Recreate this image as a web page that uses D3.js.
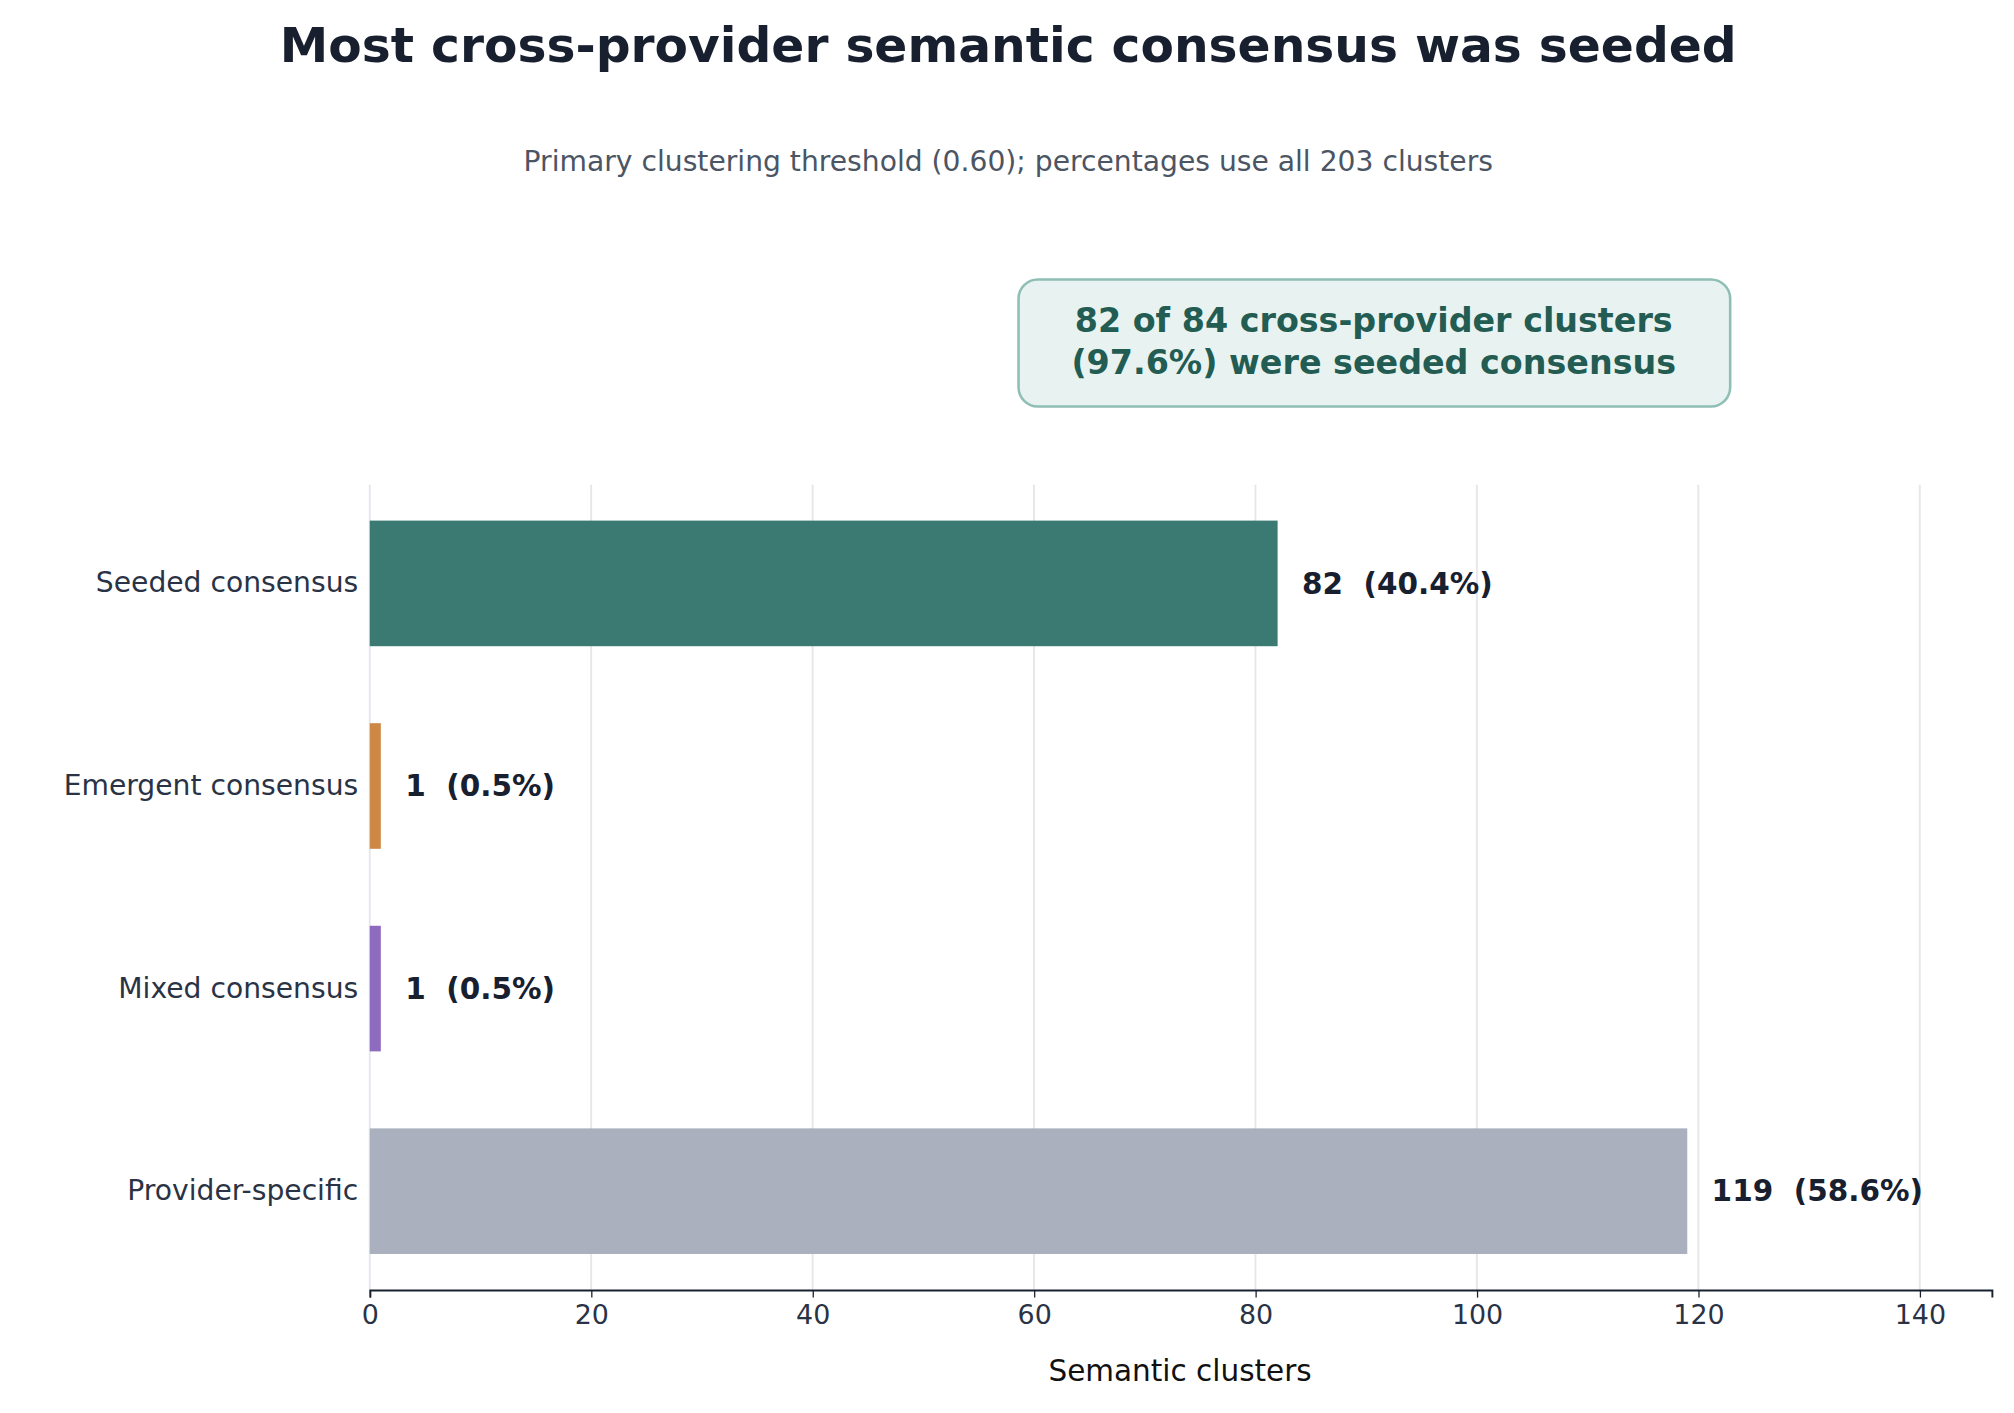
<!DOCTYPE html>
<html><head><meta charset="utf-8">
<script src="https://cdn.jsdelivr.net/npm/d3@7"></script>
<style>body{margin:0;background:#fff}text{font-family:"DejaVu Sans",sans-serif}</style>
</head><body>
<script>
const categories = ["Seeded consensus","Emergent consensus","Mixed consensus","Provider-specific"];
const values = [82,1,1,119];
const percents = ["40.4%","0.5%","0.5%","58.6%"];
const colors = ["#3b7a72","#cc8844","#8e6bbf","#aab0bd"];
const ticks = [0,20,40,60,80,100,120,140];

const W=1568,H=1102;
const svg=d3.select("body").append("svg").attr("width",2014).attr("height",1413).attr("viewBox",`0 0 ${W} ${H}`);
const x=d3.scaleLinear().domain([0,146.5]).range([287,1552]);
const y=d3.scaleBand().domain(categories).range([376,1008]).paddingInner(0.38).paddingOuter(0.19);

svg.append("text").attr("x",785).attr("y",48).attr("text-anchor","middle").attr("font-size",38).attr("font-weight","bold").attr("fill","#18202f").text("Most cross-provider semantic consensus was seeded");
svg.append("text").attr("x",785).attr("y",133).attr("text-anchor","middle").attr("font-size",22).attr("fill","#4b5563").text("Primary clustering threshold (0.60); percentages use all 203 clusters");

svg.append("g").selectAll("line").data(ticks).join("line").attr("x1",d=>x(d)).attr("x2",d=>x(d)).attr("y1",378).attr("y2",1006).attr("stroke","#e5e7eb").attr("stroke-width",1.5);

svg.append("g").selectAll("rect").data(values).join("rect").attr("x",x(0)).attr("y",(d,i)=>y(categories[i])).attr("width",d=>x(d)-x(0)).attr("height",y.bandwidth()).attr("fill",(d,i)=>colors[i]);

svg.append("g").selectAll("text").data(values).join("text").attr("x",d=>x(d)+19).attr("y",(d,i)=>y(categories[i])+y.bandwidth()/2+8).attr("font-size",23).attr("font-weight","bold").attr("fill","#18202f").attr("xml:space","preserve").text((d,i)=>`${d}  (${percents[i]})`);

const ya=svg.append("g").attr("transform","translate(287,0)").call(d3.axisLeft(y).tickSize(0).tickPadding(9));
ya.select(".domain").remove();
ya.selectAll("text").attr("font-size",22).attr("fill","#2a3345").attr("font-family","DejaVu Sans");

const xa=svg.append("g").attr("transform","translate(0,1006)").call(d3.axisBottom(x).tickValues(ticks).tickSize(6).tickPadding(6));
xa.select(".domain").attr("stroke","#18202f").attr("stroke-width",1.5);
xa.selectAll("line").attr("stroke","#18202f");
xa.selectAll("text").attr("font-size",21).attr("fill","#2a3345").attr("font-family","DejaVu Sans");
svg.append("text").attr("x",919).attr("y",1077).attr("text-anchor","middle").attr("font-size",23).attr("fill","#111").text("Semantic clusters");

svg.append("rect").attr("x",793).attr("y",218).attr("width",555).attr("height",99).attr("rx",15).attr("fill","#e8f3f1").attr("stroke","#8fbfb4").attr("stroke-width",2);
svg.append("text").attr("x",1070).attr("y",259).attr("text-anchor","middle").attr("font-size",26).attr("font-weight","bold").attr("fill","#235c52").text("82 of 84 cross-provider clusters");
svg.append("text").attr("x",1070).attr("y",292).attr("text-anchor","middle").attr("font-size",26).attr("font-weight","bold").attr("fill","#235c52").text("(97.6%) were seeded consensus");
</script>
</body></html>
